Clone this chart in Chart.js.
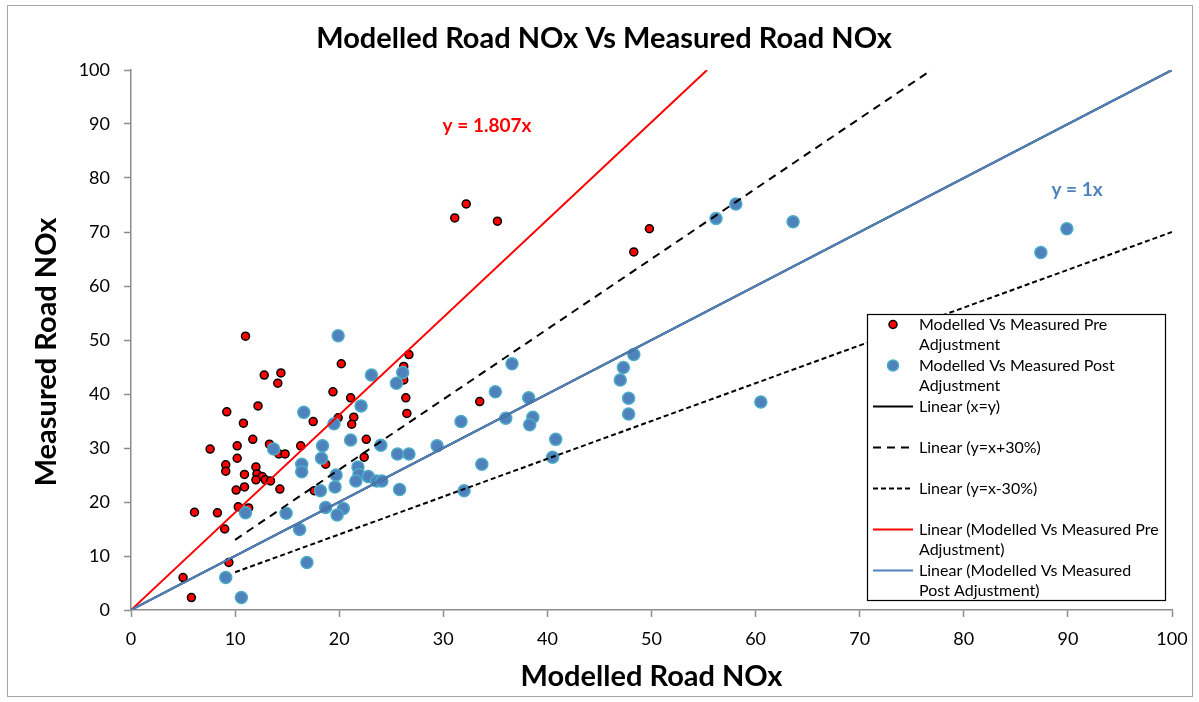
<!DOCTYPE html>
<html>
<head>
<meta charset="utf-8">
<title>Modelled Road NOx Vs Measured Road NOx</title>
<script src="https://cdn.jsdelivr.net/npm/chart.js@4.4.1/dist/chart.umd.min.js"></script>
<style>
  html, body { margin: 0; padding: 0; background: #fff; }
  canvas { display: block; }
</style>
</head>
<body>
<canvas id="noxChart" width="1199" height="702"></canvas>
<script>
// modelled (x) and measured (y) road NOx, before adjustment
const preX = [11.0, 12.8, 14.4, 14.1, 9.2, 12.2, 10.8, 17.5, 7.6, 10.2, 11.7, 13.3, 14.2, 14.8, 16.3,
  10.2, 9.1, 9.1, 12.0, 10.9, 12.1, 12.6, 12.0, 12.9, 13.4, 10.9, 10.1, 14.3, 10.3, 11.3, 6.1, 8.3,
  9.0, 9.4, 5.0, 5.8, 26.7, 20.2, 26.2, 26.2, 19.4, 21.1, 26.4, 33.5, 19.9, 21.4, 21.2, 26.5, 22.6,
  22.4, 18.7, 17.6, 31.1, 32.2, 35.2, 49.8, 48.3];
const preY = [50.7, 43.5, 43.9, 42.0, 36.7, 37.8, 34.6, 34.9, 29.8, 30.4, 31.6, 30.7, 28.9, 28.9, 30.4,
  28.1, 26.9, 25.7, 26.5, 25.1, 25.2, 24.7, 24.1, 24.1, 23.9, 22.8, 22.2, 22.4, 19.1, 18.9, 18.1, 18.0,
  15.0, 8.8, 6.0, 2.3, 47.3, 45.6, 45.1, 42.6, 40.4, 39.3, 39.3, 38.6, 35.6, 35.7, 34.4, 36.4, 31.6,
  28.3, 27.0, 22.1, 72.6, 75.2, 72.0, 70.6, 66.3];

// after adjustment
const postX = [19.9, 23.1, 26.1, 25.5, 35.0, 16.6, 22.1, 19.5, 31.7, 21.1, 18.4, 24.0, 29.4, 25.6, 26.7,
  18.3, 33.7, 16.4, 16.4, 21.8, 19.7, 21.9, 22.8, 21.6, 23.6, 24.1, 19.6, 18.2, 25.8, 32.0, 18.7, 20.4,
  19.8, 16.2, 16.9, 9.1, 10.6, 13.7, 11.0, 14.9, 58.1, 56.2, 63.6, 89.9, 87.4, 48.3, 47.3, 47.0, 47.8,
  47.8, 60.5, 36.6, 38.2, 36.0, 38.6, 38.3, 40.8, 40.5];
const postY = [50.8, 43.5, 44.0, 42.0, 40.4, 36.6, 37.8, 34.5, 34.9, 31.5, 30.4, 30.5, 30.4, 28.9, 28.9,
  28.1, 27.0, 27.0, 25.6, 26.5, 25.0, 25.1, 24.7, 23.9, 23.9, 23.9, 22.8, 22.1, 22.3, 22.1, 19.0, 18.8,
  17.6, 14.9, 8.8, 6.0, 2.3, 29.8, 18.0, 17.9, 75.2, 72.5, 71.9, 70.6, 66.2, 47.3, 44.9, 42.6, 39.2,
  36.3, 38.5, 45.6, 39.3, 35.5, 35.7, 34.3, 31.6, 28.3];

// reference / trend lines (end points)
const unityX = [0, 100], unityY = [0, 100];
const plus30X = [10, 76.9], plus30Y = [13, 100];
const minus30X = [10, 100], minus30Y = [7, 70];
const preTrendX = [0, 55.34], preTrendY = [0, 100];
const postTrendX = [0, 100], postTrendY = [0, 100];

const axisTicks = [0, 10, 20, 30, 40, 50, 60, 70, 80, 90, 100];

const toPts = (xs, ys) => xs.map((x, i) => ({x: x, y: ys[i]}));

const RED = '#ff0000', BLUE = '#4f81bd', BLUE_EDGE = '#4bacc6';
const FONT = 'Lato, "Open Sans", sans-serif';

function lineSet(label, xs, ys, color, dash, order) {
  return {
    label: label, data: toPts(xs, ys), showLine: true, borderColor: color, borderWidth: 2,
    borderDash: dash, pointRadius: 0, fill: false, order: order
  };
}

const legendItems = [
  {kind: 'dot', color: RED, edge: '#000', r: 4, lines: ['Modelled Vs Measured Pre', 'Adjustment']},
  {kind: 'dot', color: BLUE, edge: BLUE_EDGE, r: 5.5, lines: ['Modelled Vs Measured Post', 'Adjustment']},
  {kind: 'line', color: '#000', dash: [], lines: ['Linear (x=y)', '']},
  {kind: 'line', color: '#000', dash: [8, 6], lines: ['Linear (y=x+30%)', '']},
  {kind: 'line', color: '#000', dash: [5, 3], lines: ['Linear (y=x-30%)', '']},
  {kind: 'line', color: RED, dash: [], lines: ['Linear (Modelled Vs Measured Pre', 'Adjustment)']},
  {kind: 'line', color: BLUE, dash: [], lines: ['Linear (Modelled Vs Measured', 'Post Adjustment)']}
];

const decorations = {
  id: 'decorations',
  afterDraw(chart) {
    const ctx = chart.ctx;
    const area = chart.chartArea;
    ctx.save();

    // outer frame
    ctx.strokeStyle = '#a6a6a6';
    ctx.lineWidth = 1;
    ctx.strokeRect(7.5, 5.5, 1185, 691);

    ctx.fillStyle = '#000';
    ctx.textAlign = 'center';
    ctx.textBaseline = 'middle';
    ctx.font = 'bold 29px ' + FONT;
    ctx.fillText('Modelled Road NOx Vs Measured Road NOx', 604, 39);

    ctx.font = 'bold 29px ' + FONT;
    ctx.fillText('Modelled Road NOx', (area.left + area.right) / 2, 677);

    ctx.save();
    ctx.translate(47, 352);
    ctx.rotate(-Math.PI / 2);
    ctx.fillText('Measured Road NOx', 0, 0);
    ctx.restore();

    // trend equations
    ctx.font = 'bold 19px ' + FONT;
    ctx.fillStyle = RED;
    ctx.fillText('y = 1.807x', 487, 126);
    ctx.fillStyle = BLUE;
    ctx.fillText('y = 1x', 1077, 190);

    // legend
    const bx = 867.5, by = 314.5, bw = 298, bh = 286;
    ctx.fillStyle = '#fff';
    ctx.fillRect(bx, by, bw, bh);
    ctx.strokeStyle = '#000';
    ctx.lineWidth = 1.2;
    ctx.strokeRect(bx, by, bw, bh);

    ctx.font = '16px ' + FONT;
    ctx.textAlign = 'left';
    let y = 324.5;
    legendItems.forEach(item => {
      if (item.kind === 'dot') {
        ctx.beginPath();
        ctx.arc(893, y, item.r, 0, Math.PI * 2);
        ctx.fillStyle = item.color;
        ctx.fill();
        ctx.lineWidth = 1.5;
        ctx.strokeStyle = item.edge;
        ctx.stroke();
      } else {
        ctx.beginPath();
        ctx.setLineDash(item.dash);
        ctx.moveTo(873, y);
        ctx.lineTo(913, y);
        ctx.lineWidth = 2;
        ctx.strokeStyle = item.color;
        ctx.stroke();
        ctx.setLineDash([]);
      }
      ctx.fillStyle = '#000';
      ctx.fillText(item.lines[0], 919, y);
      if (item.lines[1]) ctx.fillText(item.lines[1], 919, y + 20.6);
      y += 41.0;
    });

    ctx.restore();
  }
};

const axisOpts = {
  type: 'linear', min: 0, max: 100,
  grid: {display: true, drawOnChartArea: false, drawTicks: true, tickLength: 7, tickColor: '#8c8c8c', tickWidth: 1.5},
  border: {display: true, color: '#8c8c8c', width: 1.5},
  afterBuildTicks: s => { s.ticks = axisTicks.map(v => ({value: v})); }
};

new Chart(document.getElementById('noxChart'), {
  type: 'scatter',
  data: {
    datasets: [
      {
        label: 'Modelled Vs Measured Pre Adjustment', data: toPts(preX, preY),
        backgroundColor: RED, borderColor: '#000', borderWidth: 1.5, pointRadius: 4, order: 6
      },
      {
        label: 'Modelled Vs Measured Post Adjustment', data: toPts(postX, postY),
        backgroundColor: BLUE, borderColor: BLUE_EDGE, borderWidth: 1.5, pointRadius: 6, order: 5
      },
      lineSet('Linear (x=y)', unityX, unityY, '#000', [], 4),
      lineSet('Linear (y=x+30%)', plus30X, plus30Y, '#000', [8, 6], 3),
      lineSet('Linear (y=x-30%)', minus30X, minus30Y, '#000', [5, 3], 2),
      lineSet('Linear (Modelled Vs Measured Pre Adjustment)', preTrendX, preTrendY, RED, [], 1),
      lineSet('Linear (Modelled Vs Measured Post Adjustment)', postTrendX, postTrendY, BLUE, [], 0)
    ]
  },
  options: {
    responsive: false,
    animation: false,
    devicePixelRatio: 1,
    layout: {padding: {top: 70, right: 27, left: 0, bottom: 0}},
    plugins: {legend: {display: false}, title: {display: false}, tooltip: {enabled: false}},
    scales: {
      x: Object.assign({}, axisOpts, {
        position: 'bottom',
        ticks: {font: {family: FONT, size: 18}, color: '#000', padding: 11, maxRotation: 0},
        afterFit: s => { s.height = 92; }
      }),
      y: Object.assign({}, axisOpts, {
        position: 'left',
        ticks: {font: {family: FONT, size: 18}, color: '#000', padding: 14},
        afterFit: s => { s.width = 131; }
      })
    }
  },
  plugins: [decorations]
});
</script>
</body>
</html>
